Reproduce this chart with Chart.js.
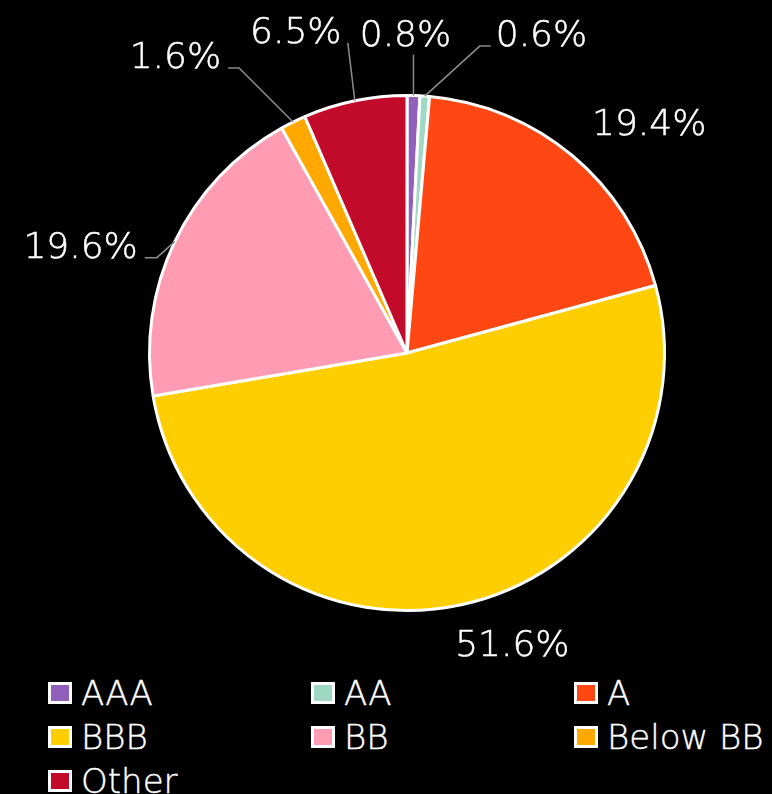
<!DOCTYPE html>
<html>
<head>
<meta charset="utf-8">
<script src="https://cdn.jsdelivr.net/npm/chart.js@4.4.1/dist/chart.umd.min.js"></script>
<style>
  body { margin: 0; background: #000; width: 772px; height: 794px; overflow: hidden; position: relative; }
  .wrap { position: absolute; left: 0; top: 0; width: 772px; height: 660px; }
  #legend {
    position: absolute; left: 48px; top: 671px;
    display: grid; grid-template-columns: 263px 263px 200px; grid-auto-rows: 44px;
    font-family: 'DejaVu Sans', sans-serif; font-weight: 200; font-size: 34px; color: #fff;
    -webkit-text-stroke: 0.4px #fff;
  }
  #legend .item { display: flex; align-items: center; white-space: nowrap; }
  #legend .box { width: 24px; height: 22px; box-sizing: border-box; border: 3px solid #fff; margin-right: 9px; flex: none; }
</style>
</head>
<body>
<div class="wrap"><canvas id="myChart"></canvas></div>
<div id="legend"></div>
<script>
const ctx = document.getElementById('myChart')
const legendBox = document.getElementById('legend')

const ratings = ['AAA', 'AA', 'A', 'BBB', 'BB', 'Below BB', 'Other']
const shares = [0.8, 0.6, 19.4, 51.6, 19.6, 1.6, 6.5]
const colors = ['#9060bb', '#9fd9c4', '#ff4714', '#ffce00', '#ff9bb3', '#ffa800', '#c20b2a']

// where each percentage label sits, relative to the outer middle of its slice
const labelSpots = [
  { line: [[0, -41]], text: [-8, -50], align: 'center' },
  { line: [[55, -50], [66, -50]], text: [71, -50], align: 'left' },
  { line: [], text: [77, -21], align: 'center' },
  { line: [], text: [50, 52], align: 'center' },
  { line: [[-18, 16], [-30, 16]], text: [-37, 16], align: 'right' },
  { line: [[-54, -54], [-65, -54]], text: [-72, -54], align: 'right' },
  { line: [[-7, -58]], text: [-59, -58], align: 'center' },
]

const sliceLabels = {
  id: 'sliceLabels',
  afterDatasetsDraw(chart) {
    const c = chart.ctx
    const arcs = chart.getDatasetMeta(0).data
    c.save()
    c.font = '200 36px "DejaVu Sans"'
    arcs.forEach((arc, i) => {
      const p = arc.getProps(['x', 'y', 'startAngle', 'endAngle', 'outerRadius'], true)
      const mid = (p.startAngle + p.endAngle) / 2
      const ex = p.x + Math.cos(mid) * p.outerRadius
      const ey = p.y + Math.sin(mid) * p.outerRadius
      const spot = labelSpots[i]
      if (spot.line.length) {
        c.strokeStyle = '#8c8c8c'
        c.lineWidth = 1.5
        c.beginPath()
        c.moveTo(ex, ey)
        spot.line.forEach((pt) => c.lineTo(ex + pt[0], ey + pt[1]))
        c.stroke()
      }
      const txt = shares[i].toFixed(1) + '%'
      c.textAlign = spot.align
      c.textBaseline = 'alphabetic'
      c.fillStyle = '#fff'
      c.strokeStyle = '#fff'
      c.lineWidth = 0.5
      c.fillText(txt, ex + spot.text[0], ey + spot.text[1])
      c.strokeText(txt, ex + spot.text[0], ey + spot.text[1])
    })
    c.restore()
  },
}

const myChart = new Chart(ctx, {
  type: 'pie',
  data: {
    labels: ratings,
    datasets: [
      {
        data: shares,
        backgroundColor: colors,
        borderColor: '#fff',
        borderWidth: 3,
      },
    ],
  },
  options: {
    responsive: true,
    maintainAspectRatio: false,
    animation: false,
    layout: { padding: { left: 148, right: 106, top: 94, bottom: 48 } },
    plugins: {
      legend: { display: false },
      tooltip: { enabled: false },
    },
  },
  plugins: [sliceLabels],
})

// legend built from the chart's own data
myChart.data.labels.forEach((name, i) => {
  const item = document.createElement('div')
  item.className = 'item'
  const box = document.createElement('span')
  box.className = 'box'
  box.style.background = myChart.data.datasets[0].backgroundColor[i]
  item.appendChild(box)
  item.appendChild(document.createTextNode(name))
  legendBox.appendChild(item)
})
</script>
</body>
</html>
